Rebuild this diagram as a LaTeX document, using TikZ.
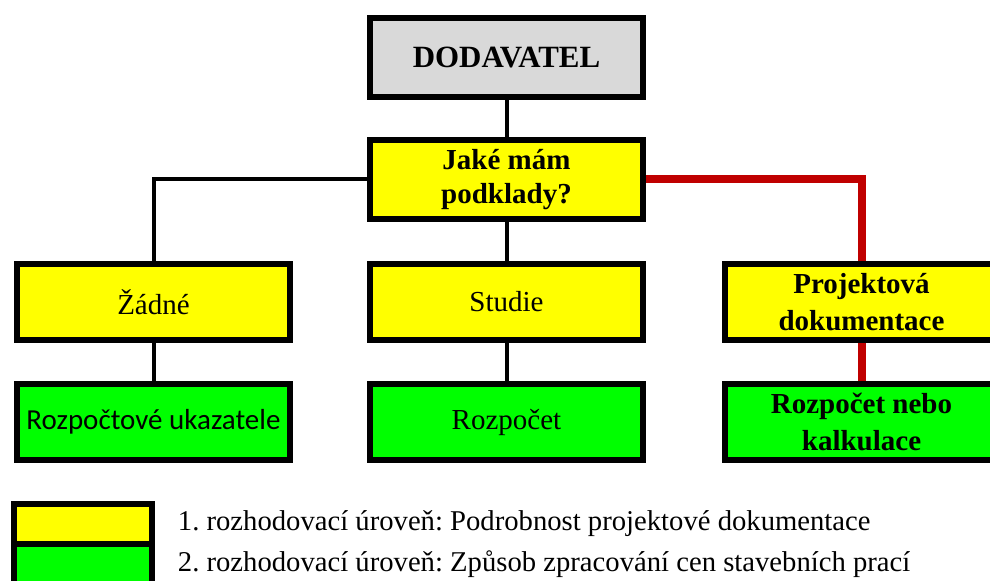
\documentclass[tikz,border=0pt]{standalone}
\usepackage{fontspec}
\setmainfont{Liberation Serif}
\newfontfamily\calibrifont{Carlito}
\usepackage{tikz}
\usetikzlibrary{
positioning
}
\frenchspacing
\definecolor{DODGray}{HTML}{D9D9D9}
\definecolor{DODYellow}{HTML}{FFFF00}
\definecolor{DODGreen}{HTML}{00FF00}
\definecolor{DODRed}{HTML}{C00000}
\tikzset{
dodbox/.style={draw=black, line width=4.5pt, align=center, inner sep=2pt,
  minimum width=204.75pt, minimum height=57pt, font=\fontsize{21.75}{27.75}\selectfont},
dodtop/.style={dodbox, fill=DODGray, minimum height=59.25pt,
  font=\fontsize{23.2}{27.75}\selectfont\bfseries},
dodlevelone/.style={dodbox, fill=DODYellow},
dodleveltwo/.style={dodbox, fill=DODGreen},
dodbold/.style={font=\fontsize{21.75}{27.75}\selectfont\bfseries},
dodline/.style={draw=black, line width=3pt},
dodpath/.style={draw=DODRed, line width=6pt},
dodlegend/.style={draw=black, line width=4.5pt, minimum width=103.5pt, minimum height=30pt},
dodlegtext/.style={inner sep=0pt, font=\fontsize{21.5}{27.75}\selectfont}
}

\begin{document}
\begin{tikzpicture}[x=0.75pt, y=-0.75pt]
\clip (0,0) rectangle (990,581);
\node[dodtop] (dod) at (506.5,57.5) {DODAVATEL};
\node[dodlevelone, below=27.75pt of dod, minimum height=59.25pt,
  font=\fontsize{21.75}{25}\selectfont\bfseries] (podklady) {Jaké mám\\podklady?};
\node[dodlevelone, below=29.25pt of podklady] (studie) {Studie};
\node[dodlevelone, left=55.5pt of studie] (zadne) {Žádné};
\node[dodlevelone, dodbold, right=57pt of studie] (projekt) {Projektová\\dokumentace};
\node[dodleveltwo, below=28.5pt of zadne, font=\fontsize{21.75}{27.75}\calibrifont] (ukazatele) {Rozpočtové ukazatele};
\node[dodleveltwo, below=28.5pt of studie] (rozpocet) {Rozpočet};
\node[dodleveltwo, dodbold, below=28.5pt of projekt] (kalkulace) {Rozpočet nebo\\kalkulace};

\draw[dodline] (dod) -- (podklady);
\draw[dodline] (podklady.west) -| (zadne.north);
\draw[dodline] (podklady) -- (studie);
\draw[dodpath] (podklady.east) -| (projekt.north);
\draw[dodline] (zadne) -- (ukazatele);
\draw[dodline] (studie) -- (rozpocet);
\draw[dodpath] (projekt) -- (kalkulace);

\node[dodlegend, fill=DODYellow] (legyellow) at (83,524) {};
\node[dodlegend, fill=DODGreen, below=-4.5pt of legyellow] (leggreen) {};
\node[dodlegtext, right=17pt of legyellow] (legone) {1. rozhodovací úroveň: Podrobnost projektové dokumentace};
\node[dodlegtext, right=17pt of leggreen] (legtwo) {2. rozhodovací úroveň: Způsob zpracování cen stavebních prací};
\end{tikzpicture}
\end{document}
